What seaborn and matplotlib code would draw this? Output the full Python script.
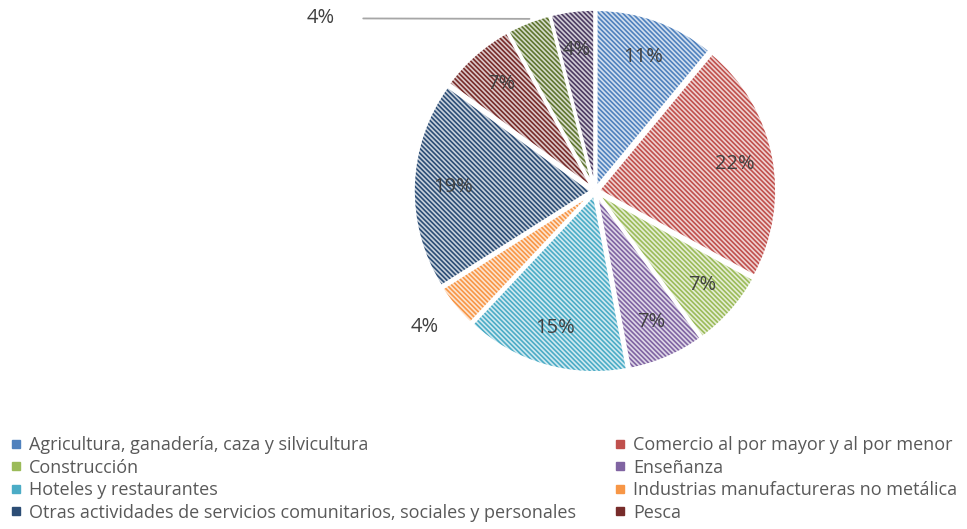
import numpy as np
import matplotlib.pyplot as plt
import seaborn as sns
from matplotlib.lines import Line2D
import matplotlib.colors as mcolors

sectores = ["Agricultura, ganadería, caza y silvicultura",
            "Comercio al por mayor y al por menor",
            "Construcción",
            "Enseñanza",
            "Hoteles y restaurantes",
            "Industrias manufactureras no metálica",
            "Otras actividades de servicios comunitarios, sociales y personales",
            "Pesca",
            "Otro sector 1",
            "Otro sector 2"]
porcentajes = [11, 22, 7, 7, 15, 4, 19, 7, 4, 4]
colores = ["#4F81BD", "#C0504D", "#9BBB59", "#8064A2", "#4BACC6",
           "#F79646", "#2C4D75", "#772C2A", "#5F7530", "#4D3B62"]
n_leyenda = 8

sns.set_theme(style="white")
plt.rcParams["font.family"] = ["Open Sans", "DejaVu Sans"]
plt.rcParams["hatch.linewidth"] = 1.2

W, H = 967, 529
fig = plt.figure(figsize=(W / 100, H / 100), dpi=100)
cx, cy, r = 595, 191, 178
half = 1.1 * r
ax = fig.add_axes([(cx - half) / W, (H - cy - half) / H, 2 * half / W, 2 * half / H])

claros = [mcolors.to_hex(0.74 * np.array([1, 1, 1]) + 0.26 * np.array(mcolors.to_rgb(c)))
          for c in colores]
explode = [0.02] * len(porcentajes)
wedges, _ = ax.pie(porcentajes, colors=claros, startangle=90, counterclock=False,
                   explode=explode, radius=1.0, wedgeprops=dict(linewidth=0))
for w, c in zip(wedges, colores):
    w.set_edgecolor(c)
    w.set_hatch("\\" * 7)
# bordes blancos entre porciones
ax.pie(porcentajes, startangle=90, counterclock=False, explode=explode, radius=1.0,
       wedgeprops=dict(facecolor="none", edgecolor="white", linewidth=2))

ax.set_xlim(-1.1, 1.1)
ax.set_ylim(-1.1, 1.1)
ax.set_aspect("equal")
ax.axis("off")

texto = "#404040"
fs = 14.5
for i, (w, p) in enumerate(zip(wedges, porcentajes)):
    ang = np.deg2rad((w.theta1 + w.theta2) / 2)
    x, y = np.cos(ang), np.sin(ang)
    if i == 5:
        ax.text(1.24 * x, 1.2 * y, f"{p}%", ha="center", va="center", fontsize=fs, color=texto)
    elif i == 8:
        ax.annotate(f"{p}%", xy=(1.0 * x, 1.04 * y), xytext=(-1.54, 0.97),
                    ha="center", va="center", fontsize=fs, color=texto,
                    arrowprops=dict(arrowstyle="-", color="#A6A6A6", lw=1.3,
                                    shrinkA=18, shrinkB=0))
    else:
        ax.text(0.8 * x, 0.8 * y, f"{p}%", ha="center", va="center", fontsize=fs, color=texto)

# orden por filas, como en la leyenda original
orden = [0, 2, 4, 6, 1, 3, 5, 7]
handles = [Line2D([0], [0], marker="s", linestyle="", markersize=6,
                  markerfacecolor=colores[i], markeredgecolor=colores[i])
           for i in orden]
fig.legend(handles, [sectores[i] for i in orden], ncol=2, mode="expand",
           loc="lower left", bbox_to_anchor=(0.002, 0.0, 0.995, 0.2),
           frameon=False, fontsize=13, labelcolor="#595959",
           handlelength=0.8, handletextpad=0.3, labelspacing=0.25,
           borderaxespad=0.0)

plt.savefig("out.png", dpi=100)
